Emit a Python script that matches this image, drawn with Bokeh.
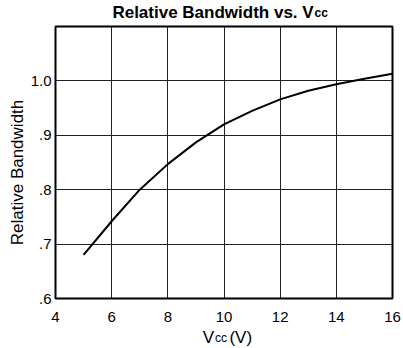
import math
from bokeh.plotting import figure
from bokeh.models import FixedTicker, CustomJSTickFormatter, Range1d
from bokeh.layouts import column, row
from bokeh.core.properties import value
from bokeh.embed import file_html
from bokeh.resources import INLINE

# Data
vcc = [5, 6, 7, 8, 9, 10, 11, 12, 13, 14, 15, 16]
rel_bw = [0.68, 0.742, 0.80, 0.847, 0.887, 0.920, 0.945, 0.966, 0.982, 0.994, 1.004, 1.013]
x_ticks = [4, 6, 8, 10, 12, 14, 16]
y_ticks = [0.6, 0.7, 0.8, 0.9, 1.0, 1.1]

title_parts = ["Relative Bandwidth vs. V", "cc"]
xlabel_parts = ["V", "cc", "(V)"]
ylabel = "Relative Bandwidth"

FONT = "Liberation Sans"
W, H = 403, 348
LW = 27          # width of the left strip holding the y label
TH, BH = 24, 22  # heights of title and x-label strips


def text_fig(w, h, x0=0):
    f = figure(width=w, height=h, output_backend="svg", toolbar_location=None,
               x_range=Range1d(x0, x0 + w), y_range=Range1d(0, h),
               x_axis_location=None, y_axis_location=None,
               min_border=0)
    f.outline_line_color = None
    f.grid.visible = False
    f.background_fill_color = "white"
    f.border_fill_color = "white"
    return f


# Y label strip (y measured from the bottom of the page)
yl = text_fig(LW, H)
yl.text(x=[16.5], y=[H - 172], text=[ylabel], angle=math.pi / 2, text_align="center",
        text_baseline="middle", text_font=value(FONT), text_font_size="17px",
        text_color="black")

# Title strip
t = text_fig(W - LW, TH, LW)
t.text(x=[315], y=[12], text=[title_parts[0]], text_align="right", text_baseline="alphabetic",
       text_font=value(FONT), text_font_size="17px", text_font_style="bold", text_color="black")
t.text(x=[316], y=[12], text=[title_parts[1]], text_align="left", text_baseline="alphabetic",
       text_font=value(FONT), text_font_size="12px", text_font_style="bold", text_color="black")

# Main plot
p = figure(width=W - LW, height=H - TH - BH, output_backend="svg", toolbar_location=None,
           x_range=Range1d(4, 16), y_range=Range1d(0.6, 1.1),
           min_border_left=55 - LW, min_border_right=11, min_border_top=2, min_border_bottom=28)
p.background_fill_color = "white"
p.border_fill_color = "white"
p.outline_line_color = "black"
p.outline_line_width = 2

p.xaxis.ticker = FixedTicker(ticks=x_ticks)
p.yaxis.ticker = FixedTicker(ticks=y_ticks)
p.yaxis.formatter = CustomJSTickFormatter(code="""
if (tick > 1.05) return '';
var s = tick.toFixed(1);
return tick < 0.999 ? s.slice(1) : s;
""")
for ax in (p.xaxis, p.yaxis):
    ax.axis_line_color = None
    ax.major_tick_line_color = None
    ax.minor_tick_line_color = None
    ax.major_tick_out = 0
    ax.major_tick_in = 0
    ax.major_label_text_font = FONT
    ax.major_label_text_font_size = "15px"
    ax.major_label_text_color = "black"
p.xaxis.major_label_standoff = 13
p.yaxis.major_label_standoff = 4

p.grid.grid_line_color = "#222222"
p.grid.grid_line_width = 1
p.grid.grid_line_alpha = 1

p.line(vcc, rel_bw, line_color="black", line_width=2)

# X label strip
b = text_fig(W - LW, BH, LW)
b.text(x=[204], y=[11], text=[xlabel_parts[0]], text_align="right", text_baseline="alphabetic",
       text_font=value(FONT), text_font_size="17px", text_color="black")
b.text(x=[205], y=[11], text=[xlabel_parts[1]], text_align="left", text_baseline="alphabetic",
       text_font=value(FONT), text_font_size="12px", text_color="black")
b.text(x=[221], y=[11], text=[xlabel_parts[2]], text_align="left", text_baseline="alphabetic",
       text_font=value(FONT), text_font_size="17px", text_color="black")

layout = row(yl, column(t, p, b, spacing=0), spacing=0)
open("out.html", "w").write(file_html(layout, INLINE))
